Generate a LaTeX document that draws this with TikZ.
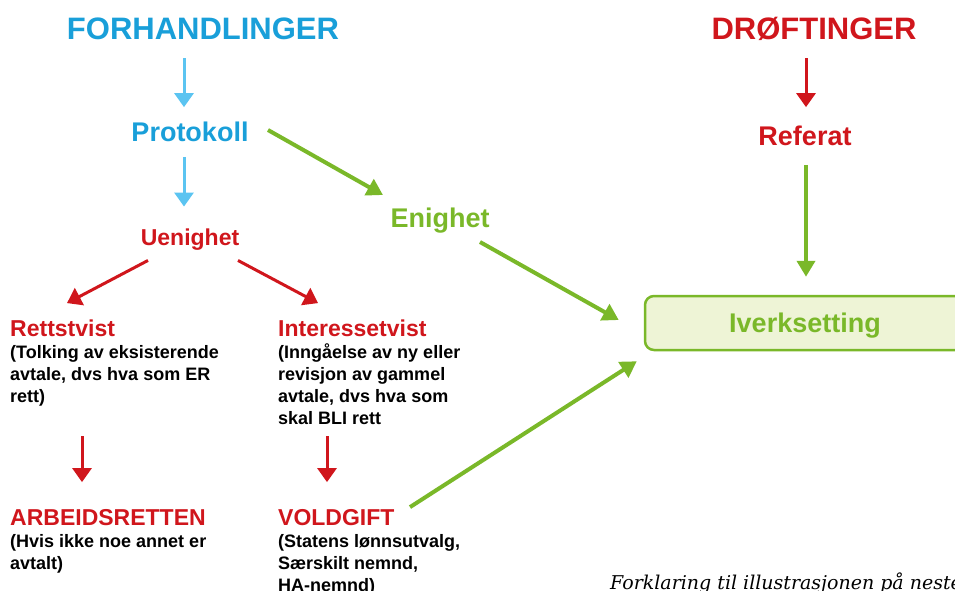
\documentclass[tikz,border=0pt]{standalone}
\usepackage{fontspec}
\setmainfont{Liberation Sans}
\newfontfamily\capfont{DejaVu Serif}
\usetikzlibrary{arrows.meta,calc}
\definecolor{hblue}{HTML}{199FD9}
\definecolor{ablue}{HTML}{5BC4F1}
\definecolor{hred}{HTML}{D0161C}
\definecolor{hgreen}{HTML}{7AB829}
\definecolor{boxfill}{HTML}{EEF4D6}
\begin{document}
\begin{tikzpicture}[x=1pt,y=-1pt,
  big/.style={inner sep=0pt,text height=22.2pt,text depth=0pt,font=\bfseries\fontsize{31}{31}\selectfont},
  mid/.style={inner sep=0pt,text height=19.3pt,text depth=0pt,font=\bfseries\fontsize{27}{27}\selectfont},
  small/.style={inner sep=0pt,text height=16.5pt,text depth=0pt,font=\bfseries\fontsize{23}{23}\selectfont},
  ttl/.style={inner sep=0pt,text height=16.5pt,text depth=0pt,anchor=south west,text=hred,font=\bfseries\fontsize{23}{23}\selectfont},
  body/.style={inner sep=0pt,anchor=base west,font=\bfseries\fontsize{18}{22}\selectfont},
  barrow/.style={draw=ablue,line width=3pt,-{Triangle[width=19pt,length=14pt]}},
  rarrow/.style={draw=hred,line width=3pt,-{Triangle[width=19pt,length=14pt]}},
  garrow/.style={draw=hgreen,line width=4pt,-{Triangle[width=18pt,length=16pt]}},
  ibox/.style={draw=hgreen,line width=2.5pt,fill=boxfill,rounded corners=9pt,minimum width=330pt,minimum height=54pt,inner sep=0pt,text height=19.3pt,text depth=0pt,text=hgreen,font=\bfseries\fontsize{27}{27}\selectfont}
]
\useasboundingbox (0,0) rectangle (955,590);
\clip (0,0) rectangle (955,590);

% headings
\node[big,text=hblue] (forh) at (203,28) {FORHANDLINGER};
\node[mid,text=hblue] (prot) at (190,132) {Protokoll};
\node[small,text=hred] (uen) at (190,237) {Uenighet};
\node[mid,text=hgreen] (enig) at (440,218) {Enighet};
\node[big,text=hred] (drof) at (814,28) {DRØFTINGER};
\node[mid,text=hred] (ref) at (805,136) {Referat};
\node[ibox] (iver) at (810,323) {\hspace*{-10pt}Iverksetting};

% left branches
\node[ttl] (rett) at (10,337) {Rettstvist};
\node[body] (rettb) at (10,358) {\begin{tabular}[t]{@{}l@{}}(Tolking av eksisterende\\avtale, dvs hva som ER\\rett)\end{tabular}};
\node[ttl] (inter) at (278,337) {Interessetvist};
\node[body] (interb) at (278,358) {\begin{tabular}[t]{@{}l@{}}(Inngåelse av ny eller\\revisjon av gammel\\avtale, dvs hva som\\skal BLI rett\end{tabular}};
\node[ttl] (arb) at (10,526) {ARBEIDSRETTEN};
\node[body] (arbb) at (10,547) {\begin{tabular}[t]{@{}l@{}}(Hvis ikke noe annet er\\avtalt)\end{tabular}};
\node[ttl] (vold) at (278,526) {VOLDGIFT};
\node[body] (voldb) at (278,547) {\begin{tabular}[t]{@{}l@{}}(Statens lønnsutvalg,\\Særskilt nemnd,\\HA-nemnd)\end{tabular}};

% caption
\node[inner sep=0pt,anchor=base west,font=\capfont\itshape\fontsize{19}{19}\selectfont] (cap) at (610,589) {Forklaring til illustrasjonen på neste};

% arrows
\draw[barrow] ($(forh.south)+(-19,19)$) -- ($(prot.north)+(-6,-15)$);
\draw[barrow] ($(prot.south)+(-6,15)$) -- ($(uen.north)+(-6,-22)$);
\draw[rarrow] ($(uen.south)+(-42,15)$) -- ($(rett.north west)+(57,-17)$);
\draw[rarrow] ($(uen.south)+(48,15)$) -- ($(inter.north west)+(40,-17)$);
\draw[garrow] ($(prot.center)+(78,-2)$) -- ($(enig.center)+(-57,-23)$);
\draw[garrow] ($(enig.center)+(40,24)$) -- ($(iver.west)+(-25,-3)$);
\draw[garrow] ($(vold.north west)+(132,-2)$) -- ($(iver.south west)+(-7,10)$);
\draw[rarrow] ($(drof.south)+(-8,19)$) -- ($(ref.north)+(1,-19)$);
\draw[garrow] ($(ref.south)+(1,19)$) -- ($(iver.north)+(-4,-18)$);
\draw[rarrow] ($(rett.south west)+(72,99)$) -- ($(arb.north west)+(72,-27)$);
\draw[rarrow] ($(inter.south west)+(49,99)$) -- ($(vold.north west)+(49,-27)$);
\end{tikzpicture}
\end{document}
